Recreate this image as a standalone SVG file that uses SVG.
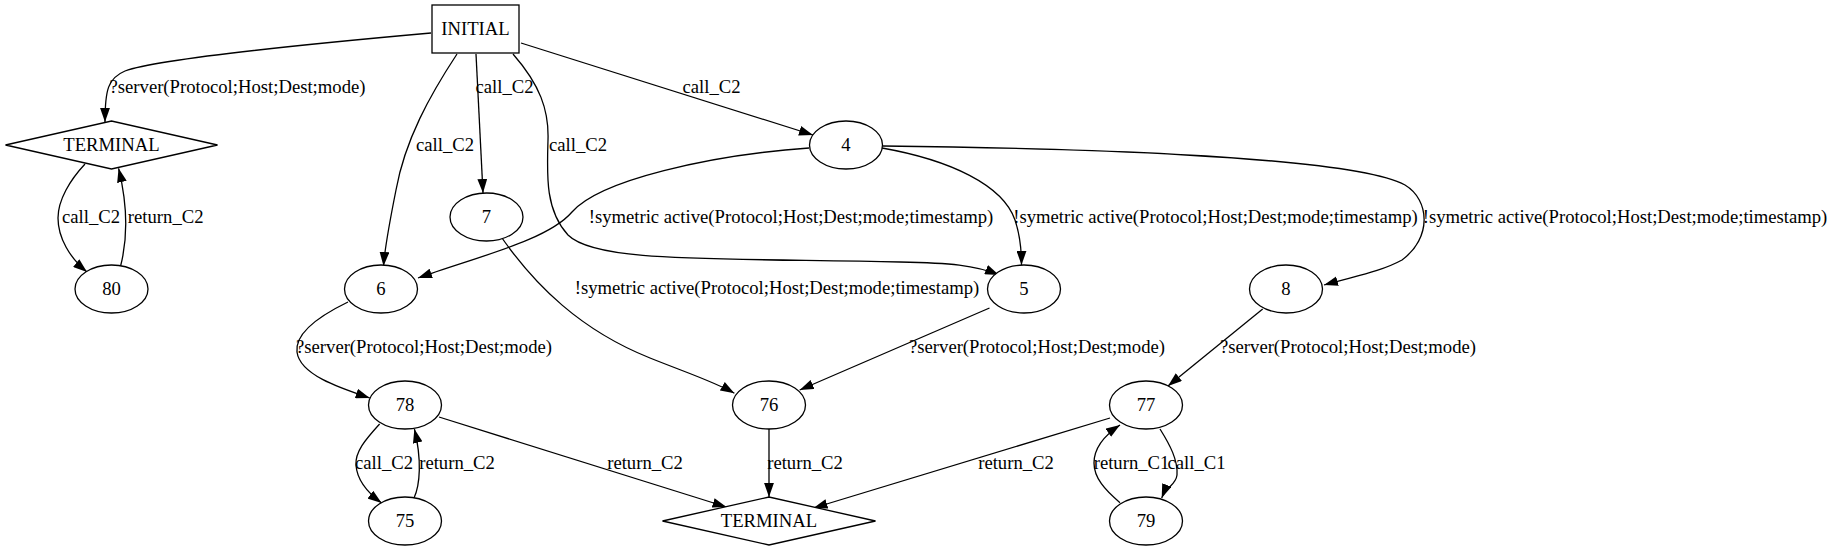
<svg xmlns="http://www.w3.org/2000/svg" width="1829" height="551" viewBox="0 0 1829 551">
<style>
text{font-family:"Liberation Serif","Times New Roman",serif;font-size:18.67px;fill:#000;text-anchor:middle}
.n{fill:#fff;stroke:#000;stroke-width:1.3}
.e{fill:none;stroke:#000;stroke-width:1.3}
</style>
<defs>
<marker id="a" markerUnits="userSpaceOnUse" markerWidth="14" markerHeight="10" viewBox="0 0 13.3 9.34" refX="13.3" refY="4.67" orient="auto">
<path d="M0,0 L13.3,4.67 L0,9.34 z" fill="#000"/>
</marker>
</defs>
<rect width="1829" height="551" fill="#fff"/>
<g id="edges">
<path class="e" marker-end="url(#a)" d="M431,33 C330,42 160,58 125,71 C108,78 105,90 105,122"/>
<path class="e" marker-end="url(#a)" d="M457,54 C430,95 405,140 396,190 C390,220 385,245 383.5,266"/>
<path class="e" marker-end="url(#a)" d="M476,54 L483,193"/>
<path class="e" marker-end="url(#a)" d="M513,54 C540,85 549,110 548,140 C547,175 545,210 568,235 C595,262 700,258 900,262 C950,263 975,265 999,275"/>
<path class="e" marker-end="url(#a)" d="M521,43 L813,135"/>
<path class="e" marker-end="url(#a)" d="M809,148 C710,155 600,180 572,212 C548,240 480,256 418,278"/>
<path class="e" marker-end="url(#a)" d="M882,148 C950,160 1003,185 1015,220 C1020,235 1021.5,250 1021.5,265"/>
<path class="e" marker-end="url(#a)" d="M883,146 C1050,148 1350,155 1405,185 C1430,200 1432,238 1402,260 C1380,272 1355,276 1324,285"/>
<path class="e" marker-end="url(#a)" d="M502,238 C535,285 580,330 650,358 C690,374 715,382 734.4,393.3"/>
<path class="e" marker-end="url(#a)" d="M989.5,308 L799.7,390"/>
<path class="e" marker-end="url(#a)" d="M1262.7,309 L1168,386"/>
<path class="e" marker-end="url(#a)" d="M348,302 C315,318 295,335 297,352 C300,375 340,388 369.7,398"/>
<path class="e" marker-end="url(#a)" d="M379.6,424 C365,440 355,452 356,465 C357,480 368,493 381.6,503"/>
<path class="e" marker-end="url(#a)" d="M414,498 C420,485 422,460 414.4,429"/>
<path class="e" marker-end="url(#a)" d="M439,417 L726.5,507"/>
<path class="e" marker-end="url(#a)" d="M769,429 L769,497"/>
<path class="e" marker-end="url(#a)" d="M1110,418 L813.5,508"/>
<path class="e" marker-end="url(#a)" d="M1160,429 C1170,445 1178,460 1177,475 C1176,485 1166,487 1161.7,498"/>
<path class="e" marker-end="url(#a)" d="M1120,502.7 C1105,490 1094,478 1094,463 C1094,448 1105,435 1120,425"/>
<path class="e" marker-end="url(#a)" d="M85,164 C70,180 58,200 58,218 C58,238 70,258 87,272"/>
<path class="e" marker-end="url(#a)" d="M120.6,266 C126,245 130,215 118.6,168.3"/>
<text x="237.5" y="93">?server(Protocol;Host;Dest;mode)</text>
<text x="445" y="151">call_C2</text>
<text x="504.5" y="93">call_C2</text>
<text x="578" y="151">call_C2</text>
<text x="711.5" y="93">call_C2</text>
<text x="791" y="223">!symetric active(Protocol;Host;Dest;mode;timestamp)</text>
<text x="1215.5" y="223">!symetric active(Protocol;Host;Dest;mode;timestamp)</text>
<text x="1625" y="223">!symetric active(Protocol;Host;Dest;mode;timestamp)</text>
<text x="777" y="294">!symetric active(Protocol;Host;Dest;mode;timestamp)</text>
<text x="91" y="223">call_C2</text>
<text x="165.7" y="223">return_C2</text>
<text x="424" y="353">?server(Protocol;Host;Dest;mode)</text>
<text x="1037" y="353">?server(Protocol;Host;Dest;mode)</text>
<text x="1348" y="353">?server(Protocol;Host;Dest;mode)</text>
<text x="384" y="469">call_C2</text>
<text x="457" y="469">return_C2</text>
<text x="645" y="469">return_C2</text>
<text x="805" y="469">return_C2</text>
<text x="1016" y="469">return_C2</text>
<text x="1131.5" y="469">return_C1</text>
<text x="1196.5" y="469">call_C1</text>
</g>
<g id="INITIAL"><rect class="n" x="432" y="5" width="87" height="48"/><text x="475.5" y="35">INITIAL</text></g>
<g id="TERMINAL1"><polygon class="n" points="5.5,145 111.5,121 217.5,145 111.5,169"/><text x="111.5" y="151">TERMINAL</text></g>
<g id="n80"><ellipse class="n" cx="111.5" cy="289" rx="36.5" ry="24"/><text x="111.5" y="295">80</text></g>
<g id="n7"><ellipse class="n" cx="486.5" cy="217" rx="36.5" ry="24"/><text x="486.5" y="223">7</text></g>
<g id="n4"><ellipse class="n" cx="846" cy="145" rx="36.5" ry="24"/><text x="846" y="151">4</text></g>
<g id="n6"><ellipse class="n" cx="381" cy="289" rx="36.5" ry="24"/><text x="381" y="295">6</text></g>
<g id="n5"><ellipse class="n" cx="1024" cy="289" rx="36.5" ry="24"/><text x="1024" y="295">5</text></g>
<g id="n8"><ellipse class="n" cx="1286" cy="289" rx="36.5" ry="24"/><text x="1286" y="295">8</text></g>
<g id="n78"><ellipse class="n" cx="405" cy="405" rx="36.5" ry="24"/><text x="405" y="411">78</text></g>
<g id="n76"><ellipse class="n" cx="769" cy="405" rx="36.5" ry="24"/><text x="769" y="411">76</text></g>
<g id="n77"><ellipse class="n" cx="1146" cy="405" rx="36.5" ry="24"/><text x="1146" y="411">77</text></g>
<g id="n75"><ellipse class="n" cx="405" cy="521" rx="36.5" ry="24"/><text x="405" y="527">75</text></g>
<g id="TERMINAL2"><polygon class="n" points="662.5,521 769,497 875.5,521 769,545"/><text x="769" y="527">TERMINAL</text></g>
<g id="n79"><ellipse class="n" cx="1146" cy="521" rx="36.5" ry="24"/><text x="1146" y="527">79</text></g>
</svg>
